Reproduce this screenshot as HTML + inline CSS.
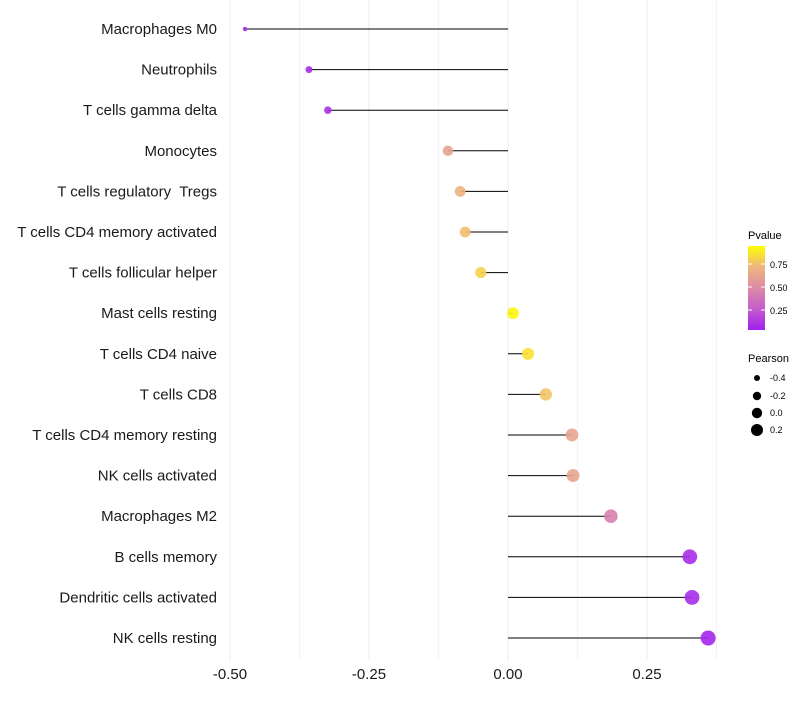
<!DOCTYPE html>
<html><head><meta charset="utf-8"><style>
body{margin:0;background:#fff;font-family:"Liberation Sans",Arial,sans-serif}
svg text{font-family:"Liberation Sans",Arial,sans-serif;white-space:pre}
</style></head><body>
<svg id="chart" width="800" height="700" xmlns="http://www.w3.org/2000/svg">
<defs><linearGradient id="pg" x1="0" y1="1" x2="0" y2="0">
<stop offset="0" stop-color="#A020F0"/><stop offset="0.25" stop-color="#C45CCB"/><stop offset="0.5" stop-color="#DC8AA6"/><stop offset="0.75" stop-color="#EFB57F"/><stop offset="1" stop-color="#FFFF00"/></linearGradient></defs>
<g id="grid"></g>
<g id="marks"></g>
<g id="labels"></g>
<g id="xt"></g>
<g>
<text x="748" y="239" font-size="11" fill="#000">Pvalue</text>
<rect x="748" y="246" width="17" height="84" fill="url(#pg)"/>
<line x1="748" x2="752" y1="264" y2="264" stroke="#fff"/><line x1="761" x2="765" y1="264" y2="264" stroke="#fff"/>
<line x1="748" x2="752" y1="287" y2="287" stroke="#fff"/><line x1="761" x2="765" y1="287" y2="287" stroke="#fff"/>
<line x1="748" x2="752" y1="310" y2="310" stroke="#fff"/><line x1="761" x2="765" y1="310" y2="310" stroke="#fff"/>
<text x="770" y="268" font-size="9">0.75</text><text x="770" y="291" font-size="9">0.50</text><text x="770" y="314" font-size="9">0.25</text>
</g>
<g>
<text x="748" y="362" font-size="11">Pearson</text>
<circle cx="757" cy="378" r="3" fill="#000"/><text x="770" y="381" font-size="9">-0.4</text>
<circle cx="757" cy="396" r="4.2" fill="#000"/><text x="770" y="399" font-size="9">-0.2</text>
<circle cx="757" cy="413" r="5.2" fill="#000"/><text x="770" y="416" font-size="9">0.0</text>
<circle cx="757" cy="430" r="6" fill="#000"/><text x="770" y="433" font-size="9">0.2</text>
</g>
</svg>
<script>
const categories=["Macrophages M0","Neutrophils","T cells gamma delta","Monocytes","T cells regulatory  Tregs","T cells CD4 memory activated","T cells follicular helper","Mast cells resting","T cells CD4 naive","T cells CD8","T cells CD4 memory resting","NK cells activated","Macrophages M2","B cells memory","Dendritic cells activated","NK cells resting"];
const pearson=[-0.473,-0.358,-0.324,-0.108,-0.086,-0.077,-0.049,0.009,0.036,0.068,0.115,0.117,0.185,0.327,0.331,0.36];
const pvalue=[0.05,0.05,0.07,0.65,0.75,0.78,0.85,0.97,0.9,0.8,0.65,0.65,0.45,0.05,0.05,0.03];
const xTicks=[-0.5,-0.25,0,0.25];
const xTickLabels=["-0.50","-0.25","0.00","0.25"];
const NS="http://www.w3.org/2000/svg";
const xs=v=>508+v*556;
const ys=i=>29+i*40.6;
const stops=[[0,[160,32,240]],[0.25,[196,92,203]],[0.5,[220,138,166]],[0.75,[239,181,127]],[1,[255,255,0]]];
function col(p){for(let k=1;k<stops.length;k++){if(p<=stops[k][0]){const a=stops[k-1],b=stops[k],t=(p-a[0])/(b[0]-a[0]);return 'rgb('+a[1].map((c,j)=>Math.round(c+(b[1][j]-c)*t)).join(',')+')';}}return 'rgb(255,255,0)';}
function mk(t,a,p){const e=document.createElementNS(NS,t);for(const k in a)e.setAttribute(k,a[k]);p.appendChild(e);return e;}
const grid=document.getElementById('grid');
for(let v=-0.5;v<=0.376;v+=0.125){const g=mk('line',{x1:xs(v),x2:xs(v),y1:0,y2:660,stroke:'#ebebeb','stroke-width':Math.abs((v*4)%1)<1e-6?1:0.6},grid);

}
const marks=document.getElementById('marks'),labels=document.getElementById('labels');
categories.forEach((c,i)=>{
const y=ys(i);
const l=mk('line',{x1:xs(0),x2:xs(pearson[i]),y1:y,y2:y,stroke:'#000','stroke-width':1},marks);


const r=Math.sqrt(5+(pearson[i]+0.473)*62);
const p=mk('circle',{cx:xs(pearson[i]),cy:y,r:r,fill:col(pvalue[i]),'fill-opacity':0.9},marks);


const t=mk('text',{x:217,y:y+5,'text-anchor':'end','font-size':15,fill:'#1a1a1a'},labels);
t.textContent=c;


});
const xt=document.getElementById('xt');
xTicks.forEach((v,i)=>{const t=mk('text',{x:xs(v),y:679,'text-anchor':'middle','font-size':15,fill:'#1a1a1a'},xt);
t.textContent=xTickLabels[i];

});
</script>
</body></html>
